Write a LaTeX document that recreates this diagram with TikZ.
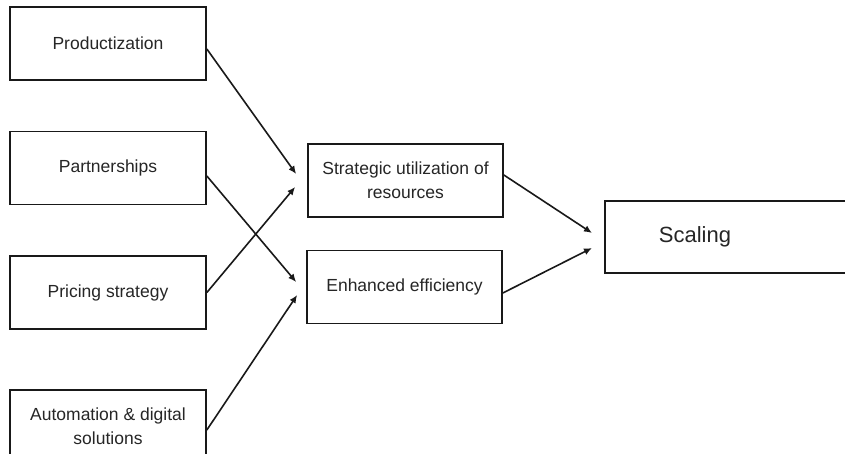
\documentclass[tikz,border=0pt]{standalone}
\usepackage{fontspec}
\setmainfont{Liberation Sans}
\usetikzlibrary{arrows.meta}
\begin{document}
\begin{tikzpicture}[x=1pt,y=-1pt,
  box/.style={draw=black!90,line width=1.7pt,rectangle,minimum width=196pt,minimum height=73pt,
    align=center,font=\fontsize{17.5}{24}\selectfont,text=black!85,inner sep=2pt},
  arr/.style={line width=1.6pt,draw=black!90,-{Latex[length=8pt,width=7pt]}}]
\useasboundingbox[fill=white] (0,0) rectangle (845,454);
\node[box] (prod) at (108,43.5) {Productization};
\node[box] (part) at (108,168) {Partnerships};
\node[box] (pric) at (108,292.5) {Pricing strategy};
\node[box] (auto) at (108,426.5) {Automation \& digital\\solutions};
\node[box,minimum width=195pt] (strat) at (405.5,180.5) {Strategic utilization of\\resources};
\node[box,minimum width=195pt] (enh) at (404.5,287) {Enhanced efficiency};
\node[box,anchor=west,minimum width=270pt,minimum height=72pt,text width=162pt,inner xsep=54pt,
  align=left,font=\fontsize{22}{26}\selectfont] (scal) at (604,237) {Scaling};
\draw[arr] ([yshift=-5.5pt]prod.east) -- ([xshift=-11pt,yshift=6.5pt]strat.west);
\draw[arr] ([yshift=-8pt]part.east) -- ([xshift=-10pt,yshift=5pt]enh.west);
\draw[arr] (pric.east) -- ([xshift=-12pt,yshift=-6.5pt]strat.west);
\draw[arr] ([yshift=-3.5pt]auto.east) -- ([xshift=-9pt,yshift=-8pt]enh.west);
\draw[arr] ([yshift=5.5pt]strat.east) -- ([xshift=-12pt,yshift=4pt]scal.west);
\draw[arr] ([yshift=-6pt]enh.east) -- ([xshift=-12pt,yshift=-11pt]scal.west);
\end{tikzpicture}
\end{document}
